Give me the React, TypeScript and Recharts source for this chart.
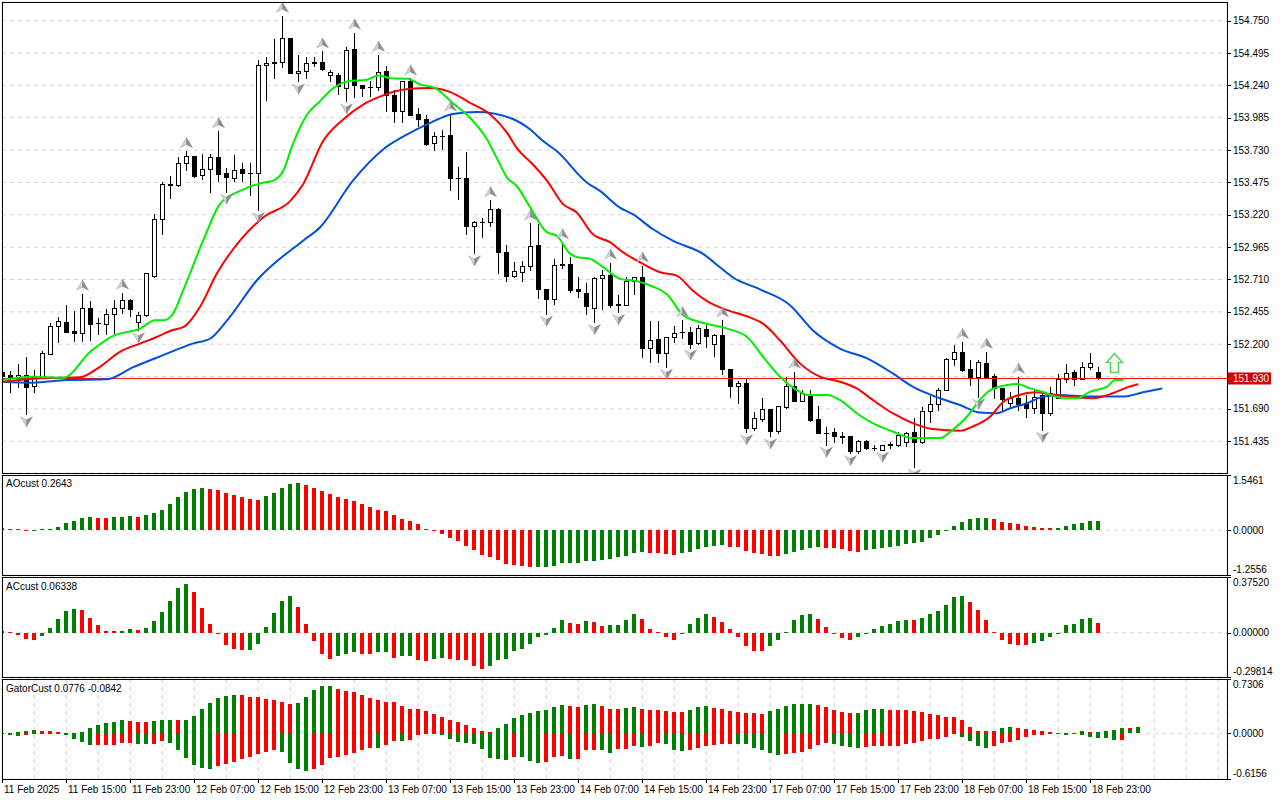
import React from 'react';
import { ComposedChart, Bar, Line, Scatter, XAxis, YAxis, CartesianGrid, ReferenceLine } from 'recharts';

const FONT = '"Liberation Sans", Arial, Helvetica, sans-serif';
const GRID = '#d4d4d4';
const HIST_UP = '#008000';
const HIST_DOWN = '#ff0000';

// ---------- time axis ----------
const timeLabels = ['11 Feb 2025', '11 Feb 15:00', '11 Feb 23:00', '12 Feb 07:00', '12 Feb 15:00', '12 Feb 23:00',
  '13 Feb 07:00', '13 Feb 15:00', '13 Feb 23:00', '14 Feb 07:00', '14 Feb 15:00', '14 Feb 23:00',
  '17 Feb 07:00', '17 Feb 15:00', '17 Feb 23:00', '18 Feb 07:00', '18 Feb 15:00', '18 Feb 23:00'];
const BARS_PER_LABEL = 8;
const gridBars = [0, 4, 8, 12, 16, 20, 24, 28, 32, 36, 40, 44, 48, 52, 56, 60, 64, 68, 72, 76, 80, 84, 88, 92, 96, 100,
  104, 108, 112, 116, 120, 124, 128, 132, 136, 140, 144, 148, 152];
const X_DOMAIN: [number, number] = [-0.04, 153.09];

// ---------- price axis ----------
const priceTicks = [154.750, 154.495, 154.240, 153.985, 153.730, 153.475, 153.220, 152.965, 152.710, 152.455, 152.200, 151.945, 151.690, 151.435];
const hiddenPriceTick = 151.945;
const currentPrice = 151.930;
const PRICE_DOMAIN: [number, number] = [151.185, 154.897];

// ---------- candles (H1) ----------
const opens = [151.983,151.957,151.944,151.957,151.870,151.944,152.122,152.347,152.375,152.304,
152.292,152.488,152.370,152.362,152.435,152.488,152.551,152.375,152.433,152.741,
153.186,153.458,153.453,153.626,153.683,153.531,153.578,153.675,153.547,153.508,
153.578,153.552,153.547,154.402,154.420,154.423,154.617,154.336,154.355,154.420,
154.428,154.318,154.318,154.219,154.528,154.245,154.227,154.227,154.355,154.161,
154.041,154.271,154.018,153.971,153.782,153.840,153.848,153.508,153.508,153.134,
153.167,153.160,153.265,152.924,152.741,152.773,152.820,152.985,152.637,152.559,
152.828,152.833,152.632,152.606,152.488,152.723,152.747,152.514,152.506,152.702,
152.733,152.174,152.245,152.132,152.253,152.296,152.299,152.213,152.323,152.200,
152.271,152.001,151.873,151.892,151.539,151.611,151.690,151.517,151.703,151.873,
151.755,151.800,151.611,151.504,151.512,151.473,151.473,151.360,151.441,151.382,
151.368,151.408,151.408,151.433,151.507,151.433,151.677,151.729,151.839,152.080,
152.140,152.001,151.939,152.049,151.949,151.852,151.735,151.774,151.735,151.695,
151.800,151.656,151.774,151.925,151.983,151.923,152.017,151.978];
const highs = [152.004,151.988,152.041,152.100,151.996,152.145,152.367,152.414,152.506,152.459,
152.598,152.537,152.406,152.480,152.551,152.606,152.559,152.453,152.763,153.225,
153.479,153.526,153.675,153.722,153.683,153.696,153.696,153.879,153.591,153.691,
153.626,153.630,154.442,154.460,154.606,154.789,154.617,154.481,154.467,154.460,
154.507,154.363,154.336,154.546,154.656,154.245,154.271,154.481,154.394,154.206,
154.277,154.295,154.062,154.010,153.874,153.892,154.010,153.597,153.714,153.173,
153.194,153.335,153.272,152.985,152.846,152.859,153.152,153.147,152.637,152.872,
153.003,152.890,152.728,152.681,152.733,152.781,152.843,152.584,152.733,152.728,
152.820,152.380,152.380,152.253,152.347,152.388,152.336,152.349,152.349,152.284,
152.388,152.001,151.912,151.923,151.664,151.774,151.690,151.716,151.944,151.983,
151.839,151.839,151.716,151.551,151.539,151.512,151.473,151.447,151.447,151.408,
151.402,151.429,151.507,151.512,151.617,151.708,151.794,151.852,152.088,152.192,
152.218,152.074,152.074,152.140,151.965,151.852,151.826,151.944,151.800,151.845,
151.821,151.865,151.962,152.043,151.996,152.056,152.132,152.022];
const lows = [151.943,151.826,151.865,151.648,151.826,151.944,152.122,152.218,152.296,152.226,
152.226,152.231,152.284,152.278,152.289,152.446,152.420,152.310,152.420,152.726,
153.068,153.351,153.447,153.571,153.520,153.500,153.403,153.487,153.403,153.487,
153.487,153.374,153.257,154.125,154.297,154.381,154.336,154.271,154.297,154.389,
154.363,154.271,154.172,154.114,154.148,154.154,154.154,154.206,154.041,153.952,
153.952,154.010,153.918,153.767,153.728,153.735,153.414,153.343,153.068,152.916,
153.042,153.134,152.759,152.702,152.728,152.702,152.786,152.566,152.441,152.519,
152.802,152.610,152.571,152.441,152.375,152.480,152.493,152.453,152.506,152.598,
152.096,152.061,152.061,152.022,152.218,152.247,152.174,152.205,152.179,152.106,
151.965,151.787,151.739,151.507,151.525,151.598,151.473,151.499,151.695,151.753,
151.753,151.596,151.499,151.408,151.433,151.421,151.342,151.342,151.376,151.368,
151.368,151.382,151.394,151.394,151.233,151.421,151.590,151.682,151.839,152.035,
151.990,151.878,151.787,151.944,151.774,151.682,151.695,151.682,151.630,151.661,
151.525,151.643,151.774,151.904,151.878,151.923,152.001,151.929];
const closes = [151.951,151.936,151.957,151.865,151.944,152.127,152.341,152.380,152.296,152.292,
152.488,152.359,152.365,152.435,152.488,152.551,152.480,152.433,152.763,153.186,
153.466,153.463,153.626,153.683,153.526,153.578,153.675,153.544,153.518,153.571,
153.547,153.547,154.402,154.420,154.424,154.617,154.336,154.355,154.420,154.423,
154.368,154.342,154.232,154.520,154.245,154.219,154.224,154.344,154.161,154.041,
154.271,154.010,153.971,153.779,153.840,153.844,153.508,153.510,153.134,153.167,
153.165,153.265,152.924,152.741,152.775,152.820,152.977,152.637,152.559,152.825,
152.832,152.629,152.616,152.498,152.723,152.747,152.506,152.510,152.702,152.728,
152.171,152.237,152.133,152.253,152.290,152.299,152.200,152.331,152.263,152.271,
152.001,151.873,151.894,151.539,151.617,151.690,151.517,151.716,151.873,151.753,
151.813,151.604,151.504,151.502,151.473,151.470,151.360,151.441,151.382,151.384,
151.402,151.410,151.486,151.499,151.433,151.677,151.729,151.839,152.080,152.140,
151.996,151.939,152.056,151.944,151.852,151.766,151.779,151.727,151.695,151.787,
151.656,151.813,151.925,151.975,151.923,152.017,152.049,151.930];

// ---------- Alligator lines, read as [bar, price] ----------
const jawPoints: [number, number][] = [[0,151.904],[3.8,151.896],[8.1,151.918],[13.1,151.923],[16.3,152.017],[20.1,152.114],
[23.8,152.205],[26,152.245],[28.1,152.388],[31.8,152.702],[37.6,153.016],[39.7,153.120],[43.8,153.487],[47.6,153.735],
[50.6,153.853],[53.5,153.944],[56.3,154.015],[59.3,154.030],[63.5,153.983],[66,153.892],[67.6,153.801],[69.3,153.722],
[73.1,153.473],[74.7,153.408],[77.2,153.277],[78.8,153.225],[81.3,153.108],[83.8,153.016],[87.6,152.912],[89.7,152.807],
[91.3,152.728],[94.7,152.632],[98.5,152.506],[101.3,152.310],[104.7,152.166],[108.1,152.088],[111.3,151.970],[113.8,151.865],
[117.2,151.774],[119.7,151.721],[122.2,151.661],[124.3,151.656],[126,151.695],[128.1,151.735],[130.1,151.787],[132.2,151.800],
[135.6,151.787],[140.1,151.787],[142.6,151.821],[145,151.852]];
const teethPoints: [number, number][] = [[0,151.904],[4.7,151.931],[9.7,151.939],[12.2,152.022],[14.7,152.140],[17.2,152.205],
[19.3,152.257],[21.2,152.310],[22.8,152.341],[24.7,152.493],[26.8,152.755],[29.7,153.016],[32.6,153.199],[36,153.330],
[37.6,153.461],[40.1,153.801],[42.6,153.971],[45.1,154.089],[47.6,154.161],[49.1,154.193],[51,154.214],[53.5,154.219],
[56,154.187],[58.5,154.101],[61,154.010],[63.1,153.866],[64.3,153.748],[66.3,153.618],[68.1,153.487],[70.1,153.304],
[71.8,153.238],[73.8,153.068],[76,153.003],[77.6,152.924],[79.7,152.846],[82.2,152.767],[84.3,152.741],[86.3,152.624],
[88.1,152.540],[90.1,152.480],[93.5,152.410],[95.1,152.362],[97.2,152.231],[99.7,152.049],[102.2,151.944],[104.7,151.904],
[106.8,151.852],[108.8,151.761],[111.3,151.656],[113.8,151.578],[116.3,151.531],[119.7,151.517],[121.3,151.551],[123.5,151.630],
[125.1,151.745],[126.8,151.794],[129.3,151.821],[131,151.805],[133.1,151.787],[136.3,151.774],[138.8,151.813],[140.6,151.860],
[142,151.884]];
const lipsPoints: [number, number][] = [[0,151.918],[3.8,151.944],[7.6,151.936],[11,152.140],[13.8,152.263],[17.2,152.323],
[19.1,152.388],[20.1,152.388],[21.2,152.428],[22.6,152.624],[25.1,153.016],[27.2,153.304],[29.7,153.408],[32.6,153.473],
[33.8,153.487],[35.1,153.565],[36.3,153.775],[38.1,154.010],[39.7,154.114],[41.3,154.214],[43.1,154.271],[45.6,154.285],
[47,154.318],[48.5,154.297],[50.7,154.292],[52.2,154.248],[54.1,154.219],[56.3,154.101],[58.5,153.983],[60.6,153.814],
[62.2,153.618],[63.1,153.513],[64.3,153.447],[66,153.277],[68.1,153.081],[69.3,153.055],[71,152.912],[72,152.885],
[73.5,152.872],[75.1,152.807],[77.2,152.715],[79.3,152.697],[81.3,152.655],[83.1,152.592],[85.1,152.428],[87.2,152.375],
[90.6,152.323],[93.1,152.257],[95.1,152.101],[97.2,151.944],[99.3,151.839],[100.6,151.800],[103.1,151.800],[104.7,151.761],
[106.8,151.656],[108.8,151.578],[111.3,151.512],[113.8,151.460],[117.2,151.460],[118.8,151.525],[120.6,151.630],[122.2,151.761],
[123.5,151.839],[125.6,151.878],[126.8,151.886],[128.5,151.852],[130.1,151.823],[132.6,151.774],[134.3,151.774],[136,151.826],
[138.1,151.865],[139.1,151.918],[140.1,151.918]];

// ---------- Fractals & signal ----------
const upFractalBars = [10, 15, 23, 27, 35, 40, 44, 47, 51, 56, 61, 66, 70, 76, 80, 85, 90, 99, 120, 123, 127];
const downFractalBars = [3, 17, 28, 32, 37, 43, 59, 68, 74, 77, 83, 86, 93, 96, 103, 106, 110, 114, 122, 130];
const signalBar = 139;
const signalPrice = 151.981;

// ---------- AO ----------
const aoRange: [number, number] = [-1.2556, 1.5461];
const aoValues = [0.049,0.029,0.020,0.006,0.010,0.020,0.029,0.095,0.211,0.269,
0.355,0.361,0.355,0.352,0.358,0.375,0.384,0.381,0.413,0.471,
0.578,0.731,0.933,1.077,1.155,1.184,1.155,1.126,1.040,0.982,
0.924,0.887,0.846,0.962,1.040,1.184,1.300,1.329,1.271,1.184,
1.097,1.011,0.924,0.866,0.809,0.731,0.644,0.578,0.529,0.413,
0.318,0.269,0.165,0.029,0.009,-0.095,-0.222,-0.309,-0.433,-0.549,
-0.684,-0.751,-0.838,-0.944,-0.982,-1.002,-1.040,-1.037,-1.034,-1.011,
-0.924,-0.918,-0.910,-0.866,-0.852,-0.838,-0.800,-0.751,-0.722,-0.627,
-0.598,-0.627,-0.635,-0.664,-0.684,-0.644,-0.598,-0.540,-0.482,-0.433,
-0.425,-0.462,-0.482,-0.578,-0.627,-0.673,-0.722,-0.731,-0.656,-0.598,
-0.549,-0.500,-0.482,-0.491,-0.511,-0.540,-0.578,-0.598,-0.557,-0.529,
-0.511,-0.482,-0.433,-0.384,-0.367,-0.318,-0.211,-0.124,-0.009,0.124,
0.240,0.309,0.338,0.341,0.309,0.222,0.211,0.165,0.116,0.087,
0.058,0.049,0.066,0.124,0.165,0.211,0.250,0.264];
const aoColors = 'rrrrgggggg' + 'ggrrgggrgg' + 'ggggggrrrr' + 'rrrgggggrr' + 'rrrrrrrrrr' + 'rrrrrrrrrr' + 'rrrrrrrggg' +
  'gggggggggg' + 'grrrrggggg' + 'grrrrrrrgg' + 'gggrrrrrgg' + 'gggggggggg' + 'ggggrrrrrr' + 'rrgggggg';

// ---------- AC ----------
const acRange: [number, number] = [-0.29814, 0.37520];
const acValues = [0.012,0.005,-0.016,-0.042,-0.051,-0.023,0.035,0.092,0.146,0.162,
0.155,0.099,0.051,0.014,0.009,0.014,0.023,0.016,0.030,0.076,
0.139,0.215,0.301,0.328,0.273,0.167,0.058,-0.009,-0.085,-0.109,
-0.116,-0.115,-0.076,0.037,0.130,0.213,0.248,0.176,0.056,-0.058,
-0.141,-0.178,-0.158,-0.144,-0.130,-0.141,-0.142,-0.130,-0.127,-0.169,
-0.160,-0.158,-0.183,-0.192,-0.180,-0.169,-0.180,-0.185,-0.186,-0.227,
-0.243,-0.222,-0.187,-0.178,-0.120,-0.109,-0.078,-0.028,-0.016,0.030,
0.085,0.065,0.058,0.078,0.069,0.047,0.051,0.052,0.085,0.123,
0.092,0.028,0.007,-0.030,-0.047,0.001,0.058,0.099,0.127,0.106,
0.072,0.023,-0.030,-0.088,-0.120,-0.121,-0.092,-0.051,0.007,0.085,
0.116,0.127,0.092,0.040,-0.007,-0.035,-0.051,-0.028,0.001,0.023,
0.047,0.058,0.081,0.085,0.084,0.099,0.123,0.144,0.185,0.241,
0.248,0.210,0.155,0.085,0.007,-0.051,-0.076,-0.081,-0.085,-0.072,
-0.058,-0.028,0.001,0.051,0.062,0.092,0.099,0.063];
const acColors = 'rrrrrggggg' + 'rrrrrggrgg' + 'ggggrrrrrr' + 'rggggggrrr' + 'rrgggrrggr' + 'ggrrggrrrr' + 'rggggggggg' +
  'grrgrrgggg' + 'rrrrrggggr' + 'rrrrrrgggg' + 'ggrrrrrggg' + 'ggggrggggg' + 'grrrrrrrrg' + 'gggggggr';

// ---------- Gator ----------
const gatorRange: [number, number] = [-0.6156, 0.7306];
const gatorUp = [0.005,0.009,0.018,0.028,0.046,0.032,0.031,0.018,0.009,0.005,
0.018,0.069,0.116,0.143,0.157,0.176,0.162,0.157,0.155,0.162,
0.176,0.185,0.176,0.178,0.231,0.333,0.407,0.472,0.500,0.518,
0.514,0.490,0.488,0.463,0.449,0.426,0.393,0.412,0.490,0.578,
0.630,0.634,0.601,0.574,0.555,0.518,0.481,0.449,0.426,0.416,
0.370,0.333,0.324,0.296,0.264,0.217,0.185,0.148,0.116,0.065,
0.032,0.012,0.065,0.125,0.204,0.241,0.273,0.296,0.315,0.351,
0.379,0.365,0.356,0.379,0.393,0.370,0.333,0.324,0.342,0.351,
0.333,0.310,0.309,0.301,0.287,0.286,0.310,0.352,0.365,0.342,
0.324,0.301,0.282,0.268,0.267,0.265,0.296,0.324,0.361,0.393,
0.394,0.396,0.379,0.352,0.315,0.282,0.273,0.278,0.315,0.328,
0.330,0.310,0.308,0.307,0.305,0.287,0.264,0.241,0.222,0.217,
0.185,0.088,0.035,0.030,0.025,0.069,0.088,0.069,0.056,0.046,
0.032,0.018,0.008,0.005,0.010,0.032,0.018,0.023,0.032,0.046,
0.065,0.075,0.078];
const gatorUpColors = 'gggggrrrrr' + 'ggggggrrrg' + 'ggrggggggg' + 'rrrrrrrggg' + 'ggrrrrrrrr' + 'rrrrrrrrrr' + 'rrgggggggg' +
  'grrggrrrgg' + 'rrrrrrgggr' + 'rrrrrrgggg' + 'ggrrrrrggg' + 'grrrrrrrrr' + 'rrrrrggrrr' + 'rrrrggrggg' + 'ggg';
const gatorDown = [-0.007,-0.028,-0.037,-0.018,-0.009,-0.005,-0.002,-0.009,-0.018,-0.083,
-0.120,-0.157,-0.156,-0.154,-0.153,-0.130,-0.128,-0.143,-0.144,-0.143,
-0.102,-0.130,-0.222,-0.338,-0.430,-0.463,-0.477,-0.444,-0.416,-0.384,
-0.352,-0.324,-0.282,-0.254,-0.231,-0.254,-0.398,-0.477,-0.509,-0.477,
-0.421,-0.338,-0.315,-0.291,-0.259,-0.222,-0.199,-0.200,-0.153,-0.106,
-0.110,-0.090,-0.028,-0.005,-0.004,-0.023,-0.074,-0.116,-0.130,-0.143,
-0.213,-0.328,-0.347,-0.361,-0.324,-0.325,-0.375,-0.398,-0.384,-0.324,
-0.301,-0.347,-0.342,-0.231,-0.222,-0.227,-0.259,-0.213,-0.208,-0.176,
-0.185,-0.176,-0.130,-0.148,-0.231,-0.245,-0.231,-0.199,-0.167,-0.157,
-0.143,-0.142,-0.148,-0.150,-0.194,-0.231,-0.268,-0.296,-0.282,-0.268,
-0.250,-0.213,-0.162,-0.130,-0.143,-0.167,-0.190,-0.199,-0.185,-0.178,
-0.174,-0.170,-0.167,-0.143,-0.130,-0.106,-0.083,-0.074,-0.056,-0.014,
-0.046,-0.102,-0.176,-0.199,-0.176,-0.130,-0.111,-0.097,-0.046,-0.023,
-0.019,-0.009,-0.011,-0.019,-0.009,-0.023,-0.046,-0.060,-0.069,-0.090,-0.084];
const gatorDownColors = 'gggrrrrggg' + 'ggrrrrrggr' + 'rggggggrrr' + 'rrrrrggggr' + 'rrrrrrrgrr' + 'grrrrggggg' + 'ggggrgggrr' +
  'rgrrrggrrr' + 'grrgggrrrr' + 'rrggggggrr' + 'rrrrggggrr' + 'rrrrrrrrrr' + 'ggggrrrrrr' + 'rrggrgggggr';

// ---------- tables built from the arrays ----------
const candleRows = opens.map((o, i) => ({ x: i, o, h: highs[i], l: lows[i], c: closes[i], hl: [lows[i], highs[i]] }));
const toPoints = (pts: [number, number][]) => pts.map(([x, v]) => ({ x, v }));
const upFractals = upFractalBars.map((b) => ({ x: b, y: highs[b] }));
const downFractals = downFractalBars.map((b) => ({ x: b, y: lows[b] }));
const signalPoints = [{ x: signalBar, y: signalPrice }];
const pick = (s: string, i: number) => (s[i] === 'g' ? HIST_UP : HIST_DOWN);
const subRows = gatorUp.map((gu, i) => ({
  x: i,
  ao: i < aoValues.length ? aoValues[i] : null,
  aoC: pick(aoColors, i),
  ac: i < acValues.length ? acValues[i] : null,
  acC: pick(acColors, i),
  gu,
  guC: pick(gatorUpColors, i),
  gd: i < gatorDown.length ? gatorDown[i] : null,
  gdC: pick(gatorDownColors, i),
}));

// ---------- shapes ----------
function CandleShape(props: any) {
  const { x, y, width, height, payload } = props;
  if (payload == null || !isFinite(x) || !isFinite(y) || !isFinite(height)) return null;
  const top = Math.min(y, y + height);
  const span = Math.abs(height);
  const range = payload.h - payload.l || 1;
  const py = (p: number) => top + ((payload.h - p) / range) * span;
  const cx = Math.round(x + width / 2) + 0.5;
  const yO = py(payload.o);
  const yC = py(payload.c);
  const bull = payload.c >= payload.o;
  const bt = Math.round(Math.min(yO, yC)) + 0.5;
  const bb = Math.round(Math.max(yO, yC)) + 0.5;
  return (
    <g>
      <line x1={cx} x2={cx} y1={Math.round(top)} y2={Math.round(top + span) + 1} stroke="#000" strokeWidth={1} />
      {bb - bt < 1 ? (
        <line x1={cx - 2.5} x2={cx + 2.5} y1={bt} y2={bt} stroke="#000" strokeWidth={1} />
      ) : (
        <rect x={cx - 2} y={bt} width={4} height={bb - bt} fill={bull ? '#ffffff' : '#000000'} stroke="#000" strokeWidth={1} />
      )}
    </g>
  );
}

const makeHist = (colorKey: string) => (props: any) => {
  const { x, y, width, height, payload } = props;
  if (payload == null || !isFinite(x) || !isFinite(y) || !isFinite(height)) return null;
  const cx = Math.round(x + width / 2);
  const top = Math.round(Math.min(y, y + height));
  const bot = Math.round(Math.max(y, y + height));
  return <rect x={cx - 2} y={top} width={4} height={Math.max(bot - top, 1)} fill={payload[colorKey]} />;
};
const AoShape = makeHist('aoC');
const AcShape = makeHist('acC');
const GuShape = makeHist('guC');
const GdShape = makeHist('gdC');

function FractalUp(props: any) {
  const { cx, cy } = props;
  if (!isFinite(cx) || !isFinite(cy)) return null;
  const x = Math.round(cx) + 0.5;
  const y = cy - 8.5;
  return (
    <g>
      <polygon points={`${x},${y - 5} ${x},${y + 2} ${x - 6},${y + 5}`} fill="#d2d2d6" stroke="#a8a8ac" strokeWidth={0.5} />
      <polygon points={`${x},${y - 5} ${x + 6},${y + 5} ${x},${y + 2}`} fill="#8c8c90" stroke="#8c8c90" strokeWidth={0.5} />
    </g>
  );
}
function FractalDown(props: any) {
  const { cx, cy } = props;
  if (!isFinite(cx) || !isFinite(cy)) return null;
  const x = Math.round(cx) + 0.5;
  const y = cy + 7.5;
  return (
    <g>
      <polygon points={`${x},${y + 5} ${x},${y - 2} ${x - 6},${y - 5}`} fill="#d2d2d6" stroke="#a8a8ac" strokeWidth={0.5} />
      <polygon points={`${x},${y + 5} ${x + 6},${y - 5} ${x},${y - 2}`} fill="#8c8c90" stroke="#8c8c90" strokeWidth={0.5} />
    </g>
  );
}
function SignalArrow(props: any) {
  const { cx, cy } = props;
  if (!isFinite(cx) || !isFinite(cy)) return null;
  const x = Math.round(cx) + 0.5;
  const y = Math.round(cy) + 0.5;
  const pts = [[0, -19], [8, -10], [4, -10], [4, 0], [-4, 0], [-4, -10], [-8, -10]]
    .map(([dx, dy]) => `${x + dx},${y + dy}`).join(' ');
  return <polygon points={pts} fill="#f4fff4" stroke="#5fcf5f" strokeWidth={1.5} />;
}

// ---------- axis ticks ----------
function PriceTick(props: any) {
  const { x, y, payload } = props;
  const v = payload.value;
  if (v === hiddenPriceTick) return null;
  if (v === currentPrice) {
    return (
      <g>
        <rect x={x - 5} y={y - 6} width={43} height={12} fill="#d20000" />
        <text x={x} y={y + 3.5} fill="#ffffff" fontSize={10} fontFamily={FONT}>{v.toFixed(3)}</text>
      </g>
    );
  }
  return (
    <g>
      <line x1={x - 6} x2={x - 2} y1={Math.round(y) + 0.5} y2={Math.round(y) + 0.5} stroke="#000" />
      <text x={x} y={y + 3.5} fill="#000" fontSize={10} fontFamily={FONT}>{v.toFixed(3)}</text>
    </g>
  );
}

const makeSubTick = (decimals: number, range: [number, number]) => (props: any) => {
  const { x, y, payload } = props;
  const v = payload.value;
  let dy = 3.5;
  if (v === range[1]) dy = 9;
  if (v === range[0]) dy = -2;
  return (
    <g>
      <line x1={x - 6} x2={x - 2} y1={Math.round(y) + 0.5} y2={Math.round(y) + 0.5} stroke="#000" />
      <text x={x} y={y + dy} fill="#000" fontSize={10} fontFamily={FONT}>{v.toFixed(decimals)}</text>
    </g>
  );
};
const AoTick = makeSubTick(4, aoRange);
const AcTick = makeSubTick(5, acRange);
const GatorTick = makeSubTick(4, gatorRange);

function TimeTick(props: any) {
  const { x, y, payload } = props;
  const bar = payload.value;
  if (bar % BARS_PER_LABEL !== 0) return null;
  const label = timeLabels[bar / BARS_PER_LABEL];
  if (!label) return null;
  const px = Math.round(x) + 0.5;
  return (
    <g>
      <line x1={px} x2={px} y1={y - 6} y2={y - 2} stroke="#000" />
      <text x={px + 1.5} y={y + 7.5} fill="#000" fontSize={10} fontFamily={FONT}>{label}</text>
    </g>
  );
}

// ---------- layout ----------
const W = 1280;
const AXIS_W = 53;

const hiddenX = (
  <XAxis type="number" dataKey="x" domain={X_DOMAIN} allowDataOverflow ticks={gridBars} interval={0}
    height={0} tick={false} tickLine={false} axisLine={false} />
);

function MainPanel() {
  return (
    <ComposedChart width={W} height={475} data={candleRows} margin={{ top: 2, right: 0, bottom: 2, left: 2 }}>
      <CartesianGrid stroke={GRID} strokeDasharray="4 4" />
      {hiddenX}
      <YAxis orientation="right" width={AXIS_W} type="number" domain={PRICE_DOMAIN} allowDataOverflow
        ticks={[...priceTicks, currentPrice]} interval={0} tick={<PriceTick />} tickSize={4} tickMargin={2}
        tickLine={false} axisLine={false} />
      <ReferenceLine y={currentPrice} stroke="#ff0000" strokeWidth={1} />
      <Bar dataKey="hl" barSize={5} shape={<CandleShape />} isAnimationActive={false} />
      <Line data={toPoints(jawPoints)} dataKey="v" type="monotone" stroke="#0050dc" strokeWidth={2} dot={false} activeDot={false} isAnimationActive={false} />
      <Line data={toPoints(teethPoints)} dataKey="v" type="monotone" stroke="#ff0000" strokeWidth={2} dot={false} activeDot={false} isAnimationActive={false} />
      <Line data={toPoints(lipsPoints)} dataKey="v" type="monotone" stroke="#00ee00" strokeWidth={2} dot={false} activeDot={false} isAnimationActive={false} />
      <Scatter data={upFractals} dataKey="y" shape={<FractalUp />} isAnimationActive={false} />
      <Scatter data={downFractals} dataKey="y" shape={<FractalDown />} isAnimationActive={false} />
      <Scatter data={signalPoints} dataKey="y" shape={<SignalArrow />} isAnimationActive={false} />
    </ComposedChart>
  );
}

function SubPanel({ dataKey, range, tick, shape }: any) {
  return (
    <ComposedChart width={W} height={104} data={subRows} margin={{ top: 2, right: 0, bottom: 2, left: 2 }}>
      <CartesianGrid stroke={GRID} strokeDasharray="4 4" />
      {hiddenX}
      <YAxis orientation="right" width={AXIS_W} type="number" domain={range} allowDataOverflow
        ticks={[range[0], 0, range[1]]} interval={0} tick={tick} tickSize={4} tickMargin={2}
        tickLine={false} axisLine={false} />
      <Bar dataKey={dataKey} barSize={4} shape={shape} isAnimationActive={false} />
    </ComposedChart>
  );
}

function GatorPanel() {
  return (
    <ComposedChart width={W} height={123} data={subRows} margin={{ top: 2, right: 0, bottom: 0, left: 2 }} stackOffset="sign">
      <CartesianGrid stroke={GRID} strokeDasharray="4 4" />
      <XAxis type="number" dataKey="x" domain={X_DOMAIN} allowDataOverflow ticks={gridBars} interval={0}
        height={21} tick={<TimeTick />} tickSize={4} tickMargin={2} tickLine={false} axisLine={false} />
      <YAxis orientation="right" width={AXIS_W} type="number" domain={gatorRange} allowDataOverflow
        ticks={[gatorRange[0], 0, gatorRange[1]]} interval={0} tick={<GatorTick />} tickSize={4} tickMargin={2}
        tickLine={false} axisLine={false} />
      <Bar dataKey="gu" stackId="g" barSize={4} shape={<GuShape />} isAnimationActive={false} />
      <Bar dataKey="gd" stackId="g" barSize={4} shape={<GdShape />} isAnimationActive={false} />
    </ComposedChart>
  );
}

const frame = (top: number, height: number): React.CSSProperties => ({
  position: 'absolute', left: 2, top, width: 1226, height, border: '1px solid #000',
  boxSizing: 'border-box', pointerEvents: 'none',
});
const labelStyle = (top: number): React.CSSProperties => ({
  position: 'absolute', left: 6, top, fontFamily: FONT, fontSize: 10, lineHeight: '12px', color: '#000', whiteSpace: 'nowrap',
});

export default function App() {
  return (
    <div style={{ position: 'absolute', left: 0, top: 0, width: 1280, height: 800, background: '#ffffff', overflow: 'hidden' }}>
      <div style={{ position: 'absolute', left: 0, top: 0 }}><MainPanel /></div>
      <div style={{ position: 'absolute', left: 0, top: 473 }}>
        <SubPanel dataKey="ao" range={aoRange} tick={<AoTick />} shape={<AoShape />} />
      </div>
      <div style={{ position: 'absolute', left: 0, top: 575 }}>
        <SubPanel dataKey="ac" range={acRange} tick={<AcTick />} shape={<AcShape />} />
      </div>
      <div style={{ position: 'absolute', left: 0, top: 677 }}><GatorPanel /></div>
      <div style={frame(2, 472)} />
      <div style={frame(475, 101)} />
      <div style={frame(577, 101)} />
      <div style={frame(679, 101)} />
      <div style={labelStyle(478)}>AOcust 0.2643</div>
      <div style={labelStyle(581)}>ACcust 0.06338</div>
      <div style={labelStyle(683)}>GatorCust 0.0776 -0.0842</div>
    </div>
  );
}
